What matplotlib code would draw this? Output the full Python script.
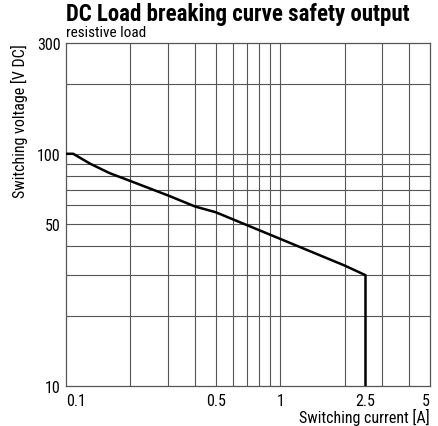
import numpy as np
import matplotlib.pyplot as plt
from matplotlib.ticker import FixedLocator, NullFormatter

# curve
current = [0.1, 0.108, 0.13, 0.16, 0.2, 0.3, 0.4, 0.5, 1.0, 2.0, 2.5, 2.5]
voltage = [100, 100, 90.5, 82.5, 76.3, 66.1, 59.3, 56, 43, 33, 30, 10]

x_grid = [0.2, 0.3, 0.4, 0.5, 0.6, 0.7, 0.8, 0.9, 1, 2, 3, 4]
y_grid = [20, 30, 40, 50, 60, 70, 80, 90, 100, 200]
x_ticks = [0.1, 0.5, 1, 2.5, 5]
x_labels = ["0.1", "0.5", "1", "2.5", "5"]
y_ticks = [10, 50, 100, 300]
y_labels = ["10", "50", "100", "300"]

plt.rcParams['font.family'] = ['Roboto Condensed', 'Archivo Narrow', 'DejaVu Sans']

fig = plt.figure(figsize=(4.38, 4.27), dpi=100)
ax = fig.add_axes([0.1507, 0.0937, 0.831, 0.8033])
ax.set_xscale("log")
ax.set_yscale("log")
ax.set_xlim(0.1, 5)
ax.set_ylim(10, 300)

for x in x_grid:
    ax.axvline(x, color="#555555", lw=0.8, zorder=1)
for y in y_grid:
    ax.axhline(y, color="#555555", lw=0.8, zorder=1)

ax.plot(current, voltage, color="black", lw=1.8, zorder=3)

ax.xaxis.set_major_locator(FixedLocator(x_ticks))
ax.set_xticklabels(x_labels)
ax.xaxis.set_minor_formatter(NullFormatter())
ax.yaxis.set_major_locator(FixedLocator(y_ticks))
ax.set_yticklabels(y_labels)
ax.yaxis.set_minor_formatter(NullFormatter())
ax.tick_params(which="both", length=0, labelsize=11.5)
ax.tick_params(axis="x", pad=5)
ax.tick_params(axis="y", pad=4)
labs = ax.get_xticklabels()
labs[0].set_ha("left")
labs[-1].set_ha("right")

for s in ax.spines.values():
    s.set_color("#555555")
    s.set_linewidth(0.9)

ax.set_xlabel("Switching current [A]", fontsize=11.5, loc="right", labelpad=0)
ax.set_ylabel("Switching voltage [V DC]", fontsize=11.5, loc="top", labelpad=6)

fig.text(0.1507, 0.951, "DC Load breaking curve safety output", fontsize=16.5,
         fontweight="bold", ha="left", va="baseline")
fig.text(0.1507, 0.913, "resistive load", fontsize=11, ha="left", va="baseline")

fig.savefig("out.png", dpi=100)
